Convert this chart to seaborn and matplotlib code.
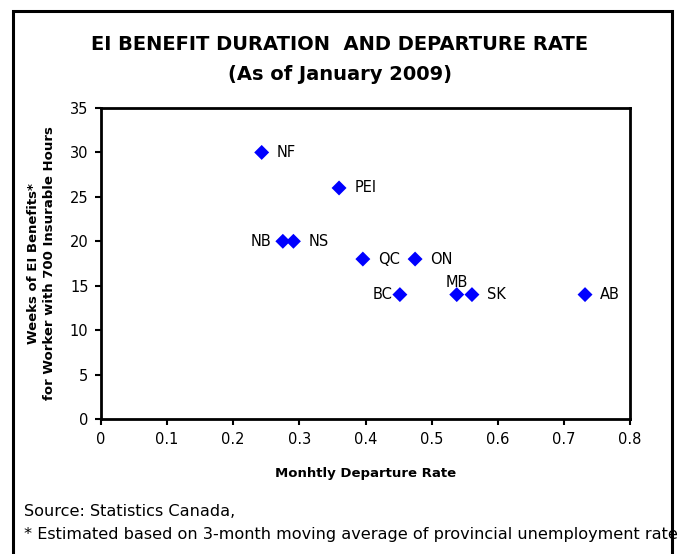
import matplotlib
matplotlib.use("Agg")
import matplotlib.pyplot as plt
import seaborn as sns
import pandas as pd
from matplotlib.patches import Rectangle

provinces = ["NF", "PEI", "NB", "NS", "QC", "ON", "BC", "MB", "SK", "AB"]
departure_rate = [0.243, 0.360, 0.275, 0.291, 0.396, 0.475, 0.452, 0.538, 0.561, 0.732]
weeks = [30, 26, 20, 20, 18, 18, 14, 14, 14, 14]
x_ticks = [0, 0.1, 0.2, 0.3, 0.4, 0.5, 0.6, 0.7, 0.8]
x_tick_labels = ["0", "0.1", "0.2", "0.3", "0.4", "0.5", "0.6", "0.7", "0.8"]
y_ticks = [0, 5, 10, 15, 20, 25, 30, 35]

df = pd.DataFrame({"prov": provinces, "rate": departure_rate, "weeks": weeks})

sns.set_theme(style="white")
plt.rcParams["font.family"] = ["DejaVu Sans"]
plt.rcParams["text.color"] = "black"
plt.rcParams["axes.labelcolor"] = "black"

fig = plt.figure(figsize=(6.83, 5.54), dpi=100)
ax = fig.add_axes([101/683, 1-419/554, (630-101)/683, (419-108)/554])

sns.scatterplot(data=df, x="rate", y="weeks", marker="D", s=58, color="#0000FF",
                edgecolor="none", linewidth=0, ax=ax, zorder=3)

# label placements: (dx, dy) in points, ha
place = {
    "NF": (11, 0, "left"), "PEI": (11, 0, "left"), "NB": (-8, 0, "right"),
    "NS": (11, 0, "left"), "QC": (11, 0, "left"), "ON": (11, 0, "left"),
    "BC": (-5, 0, "right"), "MB": (0, 9, "center"), "SK": (11, 0, "left"),
    "AB": (11, 0, "left"),
}
for p, xv, yv in zip(provinces, departure_rate, weeks):
    dx, dy, ha = place[p]
    ax.annotate(p, (xv, yv), xytext=(dx, dy), textcoords="offset points",
                ha=ha, va="center", fontsize=10.5, color="black")

ax.set_xlim(0, 0.8)
ax.set_ylim(0, 35)
ax.set_xticks(x_ticks)
ax.set_xticklabels(x_tick_labels)
ax.set_yticks(y_ticks)
ax.tick_params(axis="both", direction="out", length=4, width=1.5, labelsize=10.5,
               colors="black", bottom=True, left=True, pad=5)
for sp in ax.spines.values():
    sp.set_visible(True)
    sp.set_color("black")
    sp.set_linewidth(2)
ax.grid(False)

ax.set_xlabel("Monhtly Departure Rate", fontsize=9.5, fontweight="bold", labelpad=15)
ax.set_ylabel("Weeks of EI Benefits*\nfor Worker with 700 Insurable Hours",
              fontsize=9.5, fontweight="bold", labelpad=10, linespacing=1.25)

fig.text(340/683, 1-45/554, "EI BENEFIT DURATION  AND DEPARTURE RATE",
         ha="center", va="center", fontsize=14, fontweight="bold")
fig.text(340/683, 1-74/554, "(As of January 2009)",
         ha="center", va="center", fontsize=14, fontweight="bold")

fig.text(24/683, 1-511/554, "Source: Statistics Canada,", ha="left", va="center", fontsize=11.6)
fig.text(24/683, 1-535/554, "* Estimated based on 3-month moving average of provincial unemployment rate",
         ha="left", va="center", fontsize=11.6)

fig.patches.append(Rectangle((13/683, -0.05), (672-13)/683, 1.05 - 11/554,
                             transform=fig.transFigure, fill=False,
                             edgecolor="black", linewidth=2.2))

fig.savefig("out.png", dpi=100, facecolor="white")
